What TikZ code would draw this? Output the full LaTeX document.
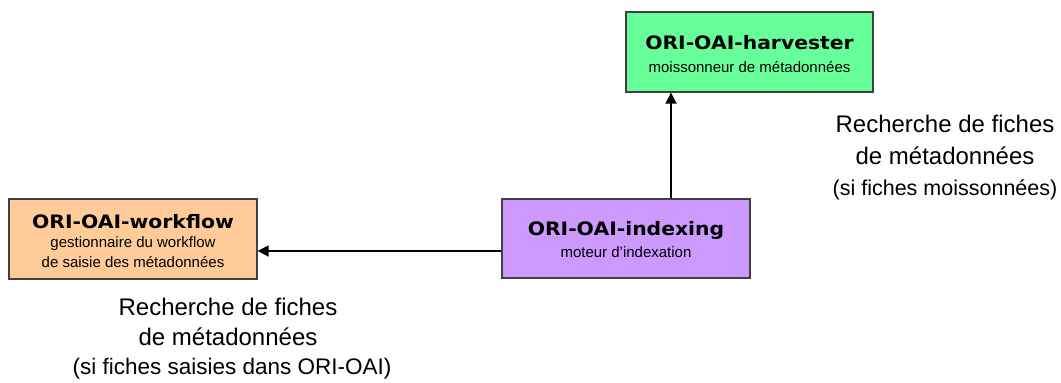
\documentclass[tikz,border=0pt]{standalone}
\usepackage{fontspec}
\setmainfont{Liberation Sans}
\newfontfamily\titlefont{DejaVu Sans}[FakeStretch=1.1]
\usetikzlibrary{arrows.meta}
\definecolor{boxgreen}{HTML}{66FF99}
\definecolor{boxpurple}{HTML}{CC99FF}
\definecolor{boxorange}{HTML}{FFCC99}
\definecolor{boxline}{HTML}{404040}
\tikzset{
  modbox/.style={draw=boxline, line width=1.2pt, rectangle, inner sep=0pt, align=center},
  ttl/.style={font=\titlefont\bfseries\fontsize{18.5}{22}\selectfont},
  sub/.style={font=\fontsize{15}{18}\selectfont},
  lbl/.style={align=center, inner sep=0pt},
  conn/.style={line width=1.5pt, -{Triangle[width=11pt,length=11pt]}}
}
\begin{document}
\begin{tikzpicture}[x=1pt,y=-1pt]
\useasboundingbox[fill=white] (0,0) rectangle (1061,383);
% boxes
\node[modbox, fill=boxgreen, minimum width=247pt, minimum height=80pt] (harv) at (749.5,52) {};
\node[ttl] (harvt) at (749.5,43) {ORI-OAI-harvester};
\node[sub] (harvs) at (749.5,67) {moissonneur de métadonnées};

\node[modbox, fill=boxpurple, minimum width=248pt, minimum height=79pt] (idx) at (626,238.5) {};
\node[ttl] (idxt) at (626,230) {ORI-OAI-indexing};
\node[sub] (idxs) at (626,252) {moteur d’indexation};

\node[modbox, fill=boxorange, minimum width=248pt, minimum height=80pt] (wf) at (133,239) {};
\node[ttl] (wft) at (133,222) {ORI-OAI-workflow};
\node[sub] (wfs1) at (133,244) {gestionnaire du workflow};
\node[sub] (wfs2) at (133,262) {de saisie des métadonnées};

% connectors
\coordinate (upstart) at (671,238.5);
\draw[conn] (upstart |- idx.north) -- (upstart |- harv.south);
\coordinate (lstart) at (626,251);
\draw[conn] (lstart -| idx.west) -- (lstart -| wf.east);

% labels
\node[lbl, font=\fontsize{24}{32}\selectfont] (r1) at (945,140) {Recherche de fiches\\de métadonnées};
\node[lbl, font=\fontsize{21.5}{24}\selectfont] (r2) at (945,190) {(si fiches moissonnées)};
\node[lbl, font=\fontsize{24}{30}\selectfont] (l1) at (228,322) {Recherche de fiches\\de métadonnées};
\node[lbl, font=\fontsize{22.5}{24}\selectfont] (l2) at (232,369) {(si fiches saisies dans ORI-OAI)};
\end{tikzpicture}
\end{document}
